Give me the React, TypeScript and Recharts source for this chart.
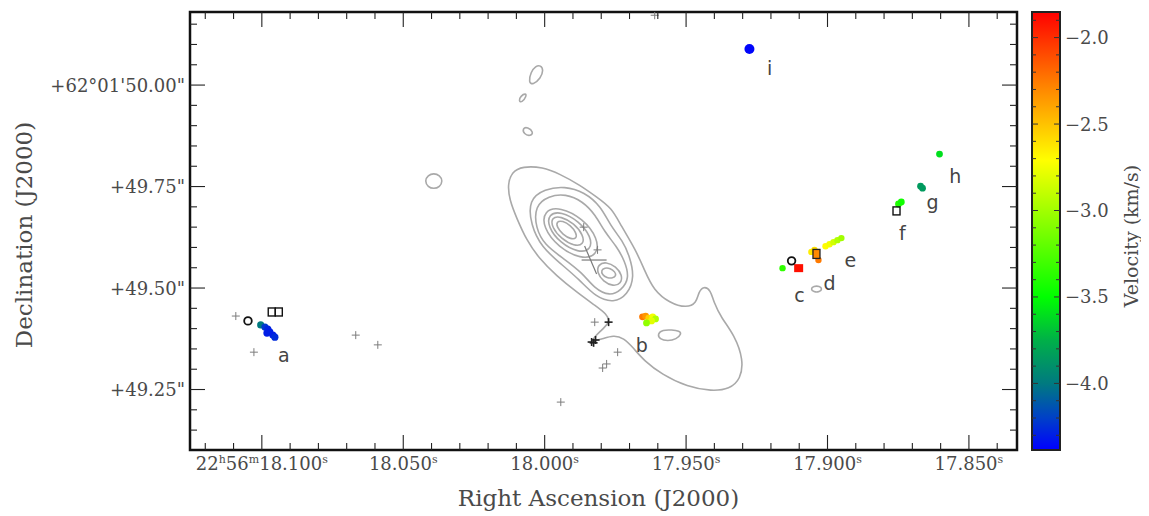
import React from "react";
import { ScatterChart, Scatter, XAxis, YAxis, ReferenceArea, Label } from "recharts";

type P = [number, number];

// contour levels: RA seconds (22h56m..), Dec arcsec (+62°01'..)
const contourOuter: P[] = [
  [18.0131, 49.754], [18.0124, 49.717], [18.0099, 49.672], [18.0064, 49.618], [18.0021, 49.574],
  [17.9958, 49.53], [17.9887, 49.49], [17.982, 49.456], [17.9781, 49.436], [17.9767, 49.416],
  [17.9806, 49.392], [17.9841, 49.367], [17.9799, 49.374], [17.9756, 49.384], [17.9721, 49.377],
  [17.9686, 49.352], [17.9647, 49.32], [17.9587, 49.288], [17.9495, 49.256], [17.941, 49.246],
  [17.9346, 49.251], [17.9307, 49.276], [17.9297, 49.323], [17.9329, 49.384], [17.9375, 49.426],
  [17.9403, 49.466], [17.9413, 49.495], [17.9438, 49.505], [17.9456, 49.49], [17.9463, 49.463],
  [17.9498, 49.451], [17.9558, 49.463], [17.9615, 49.495], [17.9647, 49.544], [17.9678, 49.594],
  [17.9731, 49.655], [17.9763, 49.697], [17.9816, 49.724], [17.9876, 49.754], [17.9947, 49.781],
  [18.0007, 49.798], [18.0078, 49.8], [18.0117, 49.786],
];
const ring1: P[] = [
  [18.0057, 49.717], [18.0, 49.744], [17.9929, 49.751], [17.9859, 49.736], [17.9802, 49.702],
  [17.9767, 49.653], [17.9724, 49.616], [17.97, 49.579], [17.9682, 49.527], [17.9707, 49.483],
  [17.9756, 49.463], [17.982, 49.478], [17.9876, 49.52], [17.9947, 49.562], [18.0011, 49.601],
  [18.0049, 49.655],
];
const ring2: P[] = [
  [18.0035, 49.702], [17.9986, 49.727], [17.9926, 49.732], [17.9866, 49.714], [17.982, 49.68],
  [17.9788, 49.638], [17.9746, 49.603], [17.9717, 49.567], [17.97, 49.525], [17.9728, 49.495],
  [17.977, 49.48], [17.9823, 49.498], [17.9866, 49.537], [17.9936, 49.574], [18.0, 49.606],
  [18.0032, 49.648],
];
const ring3: P[] = [
  [17.9813, 49.58], [17.9872, 49.571], [17.9951, 49.6], [18.0006, 49.649],
  [18.0003, 49.691], [17.9945, 49.7], [17.9865, 49.671], [17.9811, 49.622],
];
const ring4: P[] = [
  [17.9836, 49.594], [17.9881, 49.587], [17.9945, 49.611], [17.9988, 49.65],
  [17.9987, 49.682], [17.9942, 49.689], [17.9879, 49.665], [17.9835, 49.626],
];
const ring5: P[] = [
  [17.9862, 49.607], [17.9895, 49.603], [17.9941, 49.621], [17.9975, 49.65],
  [17.9976, 49.674], [17.9943, 49.677], [17.9896, 49.659], [17.9863, 49.63],
];
const ring6: P[] = [
  [17.9887, 49.622], [17.9907, 49.62], [17.9936, 49.632], [17.9957, 49.65],
  [17.9958, 49.664], [17.9937, 49.666], [17.9908, 49.654], [17.9888, 49.636],
];
const peak2Inner: P[] = [
  [17.9747, 49.53], [17.9759, 49.524], [17.978, 49.525], [17.9797, 49.533],
  [17.98, 49.544], [17.9788, 49.55], [17.9768, 49.549], [17.9751, 49.54],
];
const peak2Outer: P[] = [
  [17.973, 49.511], [17.9758, 49.504], [17.9793, 49.516], [17.9815, 49.538],
  [17.9811, 49.558], [17.9783, 49.565], [17.9748, 49.553], [17.9725, 49.531],
];
const blobNorth: P[] = [
  [18.0014, 50.049], [18.0004, 50.037], [18.0014, 50.017], [18.0042, 50.0],
  [18.0057, 50.007], [18.0049, 50.032], [18.0032, 50.047],
];
const blobSmallA: P[] = [[18.0067, 49.98], [18.0064, 49.973], [18.0081, 49.956], [18.0092, 49.961], [18.0085, 49.973]];
const blobSmallB: P[] = [[18.0078, 49.894], [18.006, 49.897], [18.0039, 49.884], [18.0049, 49.874], [18.0074, 49.879]];
const blobWest: P[] = [
  [18.036, 49.764], [18.0371, 49.749], [18.0392, 49.744], [18.0413, 49.749],
  [18.0424, 49.764], [18.0413, 49.778], [18.0392, 49.783], [18.0371, 49.778],
];
const blobEast: P[] = [
  [17.9516, 49.387], [17.9534, 49.374], [17.9565, 49.369], [17.9594, 49.374],
  [17.9601, 49.387], [17.9583, 49.397], [17.9551, 49.397], [17.9523, 49.394],
];
const blobD: P[] = [[17.9018, 49.498], [17.9028, 49.49], [17.9049, 49.49], [17.906, 49.498], [17.9049, 49.505], [17.9028, 49.505]];

const contours = [
  contourOuter, ring1, ring2, ring3, ring4, ring5, ring6, peak2Inner, peak2Outer,
  blobNorth, blobSmallA, blobSmallB, blobWest, blobEast, blobD,
];

// maser spots: ra, dec, velocity (km/s)
const spotsA = [
  { ra: 18.1004, dec: 49.409, v: -4.0 },
  { ra: 18.0989, dec: 49.404, v: -4.22 },
  { ra: 18.0979, dec: 49.399, v: -4.28 },
  { ra: 18.0972, dec: 49.392, v: -4.3 },
  { ra: 18.0982, dec: 49.389, v: -4.3 },
  { ra: 18.0961, dec: 49.384, v: -4.3 },
  { ra: 18.0954, dec: 49.379, v: -4.26 },
];
const spotsB = [
  { ra: 17.9654, dec: 49.429, v: -2.25 },
  { ra: 17.9643, dec: 49.431, v: -2.35 },
  { ra: 17.9632, dec: 49.426, v: -2.55 },
  { ra: 17.9618, dec: 49.429, v: -2.75 },
  { ra: 17.9608, dec: 49.424, v: -2.95 },
  { ra: 17.9622, dec: 49.419, v: -2.8 },
  { ra: 17.964, dec: 49.414, v: -3.05 },
];
const spotsCDE = [
  { ra: 17.9159, dec: 49.549, v: -3.35 },
  { ra: 17.9057, dec: 49.589, v: -2.65 },
  { ra: 17.9046, dec: 49.594, v: -2.6 },
  { ra: 17.9032, dec: 49.569, v: -2.25 },
  { ra: 17.9007, dec: 49.603, v: -2.7 },
  { ra: 17.8993, dec: 49.608, v: -2.75 },
  { ra: 17.8979, dec: 49.613, v: -2.85 },
  { ra: 17.8965, dec: 49.618, v: -2.95 },
  { ra: 17.8951, dec: 49.623, v: -3.0 },
];
const spotRedC = [{ ra: 17.9102, dec: 49.549, v: -1.9 }];
const spotsFGH = [
  { ra: 17.8749, dec: 49.707, v: -3.4 },
  { ra: 17.8739, dec: 49.712, v: -3.45 },
  { ra: 17.8671, dec: 49.751, v: -3.85 },
  { ra: 17.8664, dec: 49.746, v: -3.85 },
  { ra: 17.8604, dec: 49.83, v: -3.6 },
];
const spotI = [{ ra: 17.9276, dec: 50.089, v: -4.37 }];

const openSquares = [
  { ra: 18.0965, dec: 49.441 },
  { ra: 18.094, dec: 49.441 },
  { ra: 17.8756, dec: 49.69 },
];
const filledSquares = [{ ra: 17.9039, dec: 49.584, v: -2.3 }];
const openCircles = [
  { ra: 18.1049, dec: 49.419 },
  { ra: 17.9127, dec: 49.567 },
];
const crossesGray = [
  { ra: 18.1092, dec: 49.431 }, { ra: 18.1028, dec: 49.342 }, { ra: 18.0668, dec: 49.384 },
  { ra: 18.059, dec: 49.36 }, { ra: 17.9823, dec: 49.416 }, { ra: 17.9742, dec: 49.342 },
  { ra: 17.9795, dec: 49.303 }, { ra: 17.9781, dec: 49.313 }, { ra: 17.9943, dec: 49.219 },
  { ra: 17.9862, dec: 49.65 }, { ra: 17.9813, dec: 49.594 }, { ra: 17.9611, dec: 50.172 },
];
const crossesDark = [
  { ra: 17.9774, dec: 49.416 }, { ra: 17.9834, dec: 49.367 },
  { ra: 17.982, dec: 49.372 }, { ra: 17.9827, dec: 49.365 },
];
const bigCross = [{ ra: 17.9827, dec: 49.569 }];

const siteLabels = [
  { name: "a", ra: 18.0922, dec: 49.318 },
  { name: "b", ra: 17.9657, dec: 49.342 },
  { name: "c", ra: 17.9099, dec: 49.466 },
  { name: "d", ra: 17.8993, dec: 49.495 },
  { name: "e", ra: 17.8919, dec: 49.552 },
  { name: "f", ra: 17.8735, dec: 49.618 },
  { name: "g", ra: 17.8629, dec: 49.695 },
  { name: "h", ra: 17.8548, dec: 49.759 },
  { name: "i", ra: 17.9205, dec: 50.025 },
];

const raTicks = [
  17.84, 17.85, 17.86, 17.87, 17.88, 17.89, 17.9, 17.91, 17.92, 17.93, 17.94, 17.95, 17.96, 17.97, 17.98,
  17.99, 18.0, 18.01, 18.02, 18.03, 18.04, 18.05, 18.06, 18.07, 18.08, 18.09, 18.1, 18.11, 18.12,
];
const decTicks = [
  49.15, 49.2, 49.25, 49.3, 49.35, 49.4, 49.45, 49.5, 49.55, 49.6, 49.65, 49.7, 49.75,
  49.8, 49.85, 49.9, 49.95, 50.0, 50.05, 50.1, 50.15,
];
const velTicks = [
  -4.3, -4.2, -4.1, -4.0, -3.9, -3.8, -3.7, -3.6, -3.5, -3.4, -3.3, -3.2, -3.1, -3.0,
  -2.9, -2.8, -2.7, -2.6, -2.5, -2.4, -2.3, -2.2, -2.1, -2.0, -1.9,
];

const RA_DOMAIN: [number, number] = [17.833, 18.1254];
const DEC_DOMAIN: [number, number] = [49.101, 50.18];
const VEL_DOMAIN: [number, number] = [-4.385, -1.852];

const velStops: [number, string][] = [
  [-4.385, "#0000ff"],
  [-4.2, "#0040c8"],
  [-4.0, "#007a80"],
  [-3.75, "#00b048"],
  [-3.5, "#00ff00"],
  [-2.71, "#ffff00"],
  [-2.27, "#ff8000"],
  [-1.852, "#ff0000"],
];

// layout of the main panel
const CHART_W = 1012;
const CHART_H = 508;
const MARGIN = { top: 4, right: 3, bottom: 26, left: 0 };
const X_AXIS_H = 40;
const Y_AXIS_W = 182;
const PLOT_W = CHART_W - MARGIN.left - MARGIN.right - Y_AXIS_W;
const PLOT_H = CHART_H - MARGIN.top - MARGIN.bottom - X_AXIS_H;

const SERIF = "'DejaVu Serif', serif";
const TXT = "#4a4a4a";
const TICK = "#222";

const hex = (h: string) => [1, 3, 5].map((i) => parseInt(h.slice(i, i + 2), 16));
function velColor(v: number) {
  if (v <= velStops[0][0]) return velStops[0][1];
  for (let i = 0; i < velStops.length - 1; i++) {
    const [v0, c0] = velStops[i];
    const [v1, c1] = velStops[i + 1];
    if (v <= v1) {
      const t = (v - v0) / (v1 - v0);
      const a = hex(c0);
      const b = hex(c1);
      const c = a.map((x, k) => Math.round(x + (b[k] - x) * t));
      return `rgb(${c[0]},${c[1]},${c[2]})`;
    }
  }
  return velStops[velStops.length - 1][1];
}

const isMajor = (v: number, step: number) => Math.abs(v / step - Math.round(v / step)) < 1e-6;

const blank = () => <g />;
const spotShape = (r: number) => (p: any) => <circle cx={p.cx} cy={p.cy} r={r} fill={velColor(p.payload.v)} />;
const crossShape = (color: string, w: number, h: number) => (p: any) => (
  <g stroke={color} strokeWidth={w}>
    <line x1={p.cx - h} x2={p.cx + h} y1={p.cy} y2={p.cy} />
    <line x1={p.cx} x2={p.cx} y1={p.cy - h} y2={p.cy + h} />
  </g>
);
const bigCrossShape = (p: any) => (
  <g stroke="#7a7a7a" strokeWidth={1.2}>
    <line x1={p.cx - 12} x2={p.cx + 13} y1={p.cy} y2={p.cy} />
    <line x1={p.cx - 9} x2={p.cx + 3} y1={p.cy - 14} y2={p.cy + 14} />
  </g>
);
const squareShape = (p: any) => (
  <rect x={p.cx - 3.5} y={p.cy - 4} width={7} height={8} fill="none" stroke="#111" strokeWidth={1.4} />
);
const filledSquareShape = (p: any) => (
  <rect x={p.cx - 3.5} y={p.cy - 4.5} width={7} height={9} fill={velColor(p.payload.v)} stroke="#222" strokeWidth={1.3} />
);
const redSquareShape = (p: any) => (
  <rect x={p.cx - 4.5} y={p.cy - 4} width={9} height={8} fill={velColor(p.payload.v)} />
);
const circleShape = (p: any) => <circle cx={p.cx} cy={p.cy} r={3.8} fill="none" stroke="#111" strokeWidth={1.8} />;
const labelShape = (p: any) => (
  <text x={p.cx} y={p.cy} textAnchor="middle" fontFamily="'DejaVu Sans', sans-serif" fontSize={19} fill="#444">
    {p.payload.name}
  </text>
);

// bottom axis tick: inward mark at the bottom and mirrored one at the top edge, label below
function BottomTick(p: any) {
  const { x, y, payload } = p;
  const v: number = payload.value;
  const major = isMajor(v, 0.05);
  const len = major ? 15 : 7;
  const top = y - PLOT_H;
  const first = Math.abs(v - 18.1) < 1e-6;
  return (
    <g>
      <line x1={x} x2={x} y1={y} y2={y - len} stroke={TICK} strokeWidth={1.1} />
      <line x1={x} x2={x} y1={top} y2={top + len} stroke={TICK} strokeWidth={1.1} />
      {major && (
        <text x={x} y={y + 20} textAnchor="middle" fontFamily={SERIF} fontSize={18} fill={TXT}>
          {first && (
            <>
              <tspan>22</tspan>
              <tspan dy={-7} fontSize={11}>h</tspan>
              <tspan dy={7}>56</tspan>
              <tspan dy={-7} fontSize={11}>m</tspan>
              <tspan dy={7}>{v.toFixed(3)}</tspan>
            </>
          )}
          {!first && <tspan>{v.toFixed(3)}</tspan>}
          <tspan dy={-7} fontSize={11}>s</tspan>
        </text>
      )}
    </g>
  );
}
// left axis tick: inward mark on the left and mirrored one on the right edge, label to the left
function LeftTick(p: any) {
  const { x, y, payload } = p;
  const v: number = payload.value;
  const major = isMajor(v, 0.25);
  const len = major ? 15 : 7;
  const right = x + PLOT_W;
  const text = Math.abs(v - 50) < 1e-6 ? "+62°01'50.00\"" : `+${v.toFixed(2)}"`;
  return (
    <g>
      <line x1={x} x2={x + len} y1={y} y2={y} stroke={TICK} strokeWidth={1.1} />
      <line x1={right} x2={right - len} y1={y} y2={y} stroke={TICK} strokeWidth={1.1} />
      {major && (
        <text x={x - 5} y={y + 6.5} textAnchor="end" fontFamily={SERIF} fontSize={18} fill={TXT}>
          {text}
        </text>
      )}
    </g>
  );
}
function VelTick(p: any) {
  const { x, y, payload } = p;
  const v: number = payload.value;
  const major = isMajor(v, 0.5);
  const len = major ? 6 : 4;
  return (
    <g>
      <line x1={x} x2={x - len} y1={y} y2={y} stroke="#333" strokeWidth={1} />
      <line x1={x - 28} x2={x - 28 + len} y1={y} y2={y} stroke="#333" strokeWidth={1} />
      {major && (
        <text x={x + 5} y={y + 6.5} textAnchor="start" fontFamily={SERIF} fontSize={18} fill={TXT}>
          {`\u2212${Math.abs(v).toFixed(1)}`}
        </text>
      )}
    </g>
  );
}

const XTitle = (p: any) => {
  const vb = p.viewBox || { x: 182, y: 442, width: 827, height: 40 };
  return (
    <text x={vb.x + vb.width / 2 - 5} y={vb.y + 56} textAnchor="middle" fontFamily={SERIF} fontSize={23} fill={TXT}>
      Right Ascension (J2000)
    </text>
  );
};
const YTitle = (p: any) => {
  const vb = p.viewBox || { x: 0, y: 4, width: 182, height: 438 };
  const cx = vb.x + 15.5;
  const cy = vb.y + vb.height / 2 + 4;
  return (
    <text
      x={cx}
      y={cy}
      transform={`rotate(-90, ${cx}, ${cy})`}
      textAnchor="middle"
      dominantBaseline="central"
      fontFamily={SERIF}
      fontSize={23}
      fill={TXT}
    >
      Declination (J2000)
    </text>
  );
};
const VelTitle = (p: any) => {
  const vb = p.viewBox || { x: 40, y: 4, width: 89, height: 438 };
  const cx = vb.x + 71;
  const cy = vb.y + 224;
  return (
    <text
      x={cx}
      y={cy}
      transform={`rotate(-90, ${cx}, ${cy})`}
      textAnchor="middle"
      dominantBaseline="central"
      fontFamily={SERIF}
      fontSize={19}
      fill={TXT}
    >
      Velocity (km/s)
    </text>
  );
};

export default function App() {
  return (
    <div style={{ position: "relative", width: 1141, height: CHART_H }}>
      <div style={{ position: "absolute", left: 0, top: 0 }}>
        <ScatterChart width={CHART_W} height={CHART_H} margin={MARGIN}>
          <XAxis
            type="number"
            dataKey="ra"
            domain={RA_DOMAIN}
            allowDataOverflow
            reversed
            ticks={raTicks}
            interval={0}
            height={X_AXIS_H}
            tickSize={0}
            tickMargin={0}
            tickLine={false}
            axisLine={false}
            tick={(p: any) => <BottomTick {...p} />}
          >
            <Label content={XTitle} />
          </XAxis>
          <YAxis
            type="number"
            dataKey="dec"
            domain={DEC_DOMAIN}
            allowDataOverflow
            ticks={decTicks}
            interval={0}
            width={Y_AXIS_W}
            tickSize={0}
            tickMargin={0}
            tickLine={false}
            axisLine={false}
            tick={(p: any) => <LeftTick {...p} />}
          >
            <Label content={YTitle} />
          </YAxis>

          {contours.map((c, i) => (
            <Scatter
              key={`c${i}`}
              data={c.map(([ra, dec]) => ({ ra, dec }))}
              line={{ stroke: "#a9a9a9", strokeWidth: 1.6, fill: "none" }}
              lineType="joint"
              lineJointType="basisClosed"
              shape={blank}
              isAnimationActive={false}
            />
          ))}

          <Scatter data={crossesGray} shape={crossShape("#7d7d7d", 1, 4)} isAnimationActive={false} />
          <Scatter data={crossesDark} shape={crossShape("#222", 1.6, 4)} isAnimationActive={false} />
          <Scatter data={bigCross} shape={bigCrossShape} isAnimationActive={false} />

          <Scatter data={spotsA} shape={spotShape(3.6)} isAnimationActive={false} />
          <Scatter data={spotsB} shape={spotShape(3.4)} isAnimationActive={false} />
          <Scatter data={spotsCDE} shape={spotShape(3.2)} isAnimationActive={false} />
          <Scatter data={spotsFGH} shape={spotShape(3.4)} isAnimationActive={false} />
          <Scatter data={spotI} shape={spotShape(5)} isAnimationActive={false} />
          <Scatter data={spotRedC} shape={redSquareShape} isAnimationActive={false} />

          <Scatter data={openSquares} shape={squareShape} isAnimationActive={false} />
          <Scatter data={filledSquares} shape={filledSquareShape} isAnimationActive={false} />
          <Scatter data={openCircles} shape={circleShape} isAnimationActive={false} />
          <Scatter data={siteLabels} shape={labelShape} isAnimationActive={false} />

          <ReferenceArea
            x1={RA_DOMAIN[0]}
            x2={RA_DOMAIN[1]}
            y1={DEC_DOMAIN[0]}
            y2={DEC_DOMAIN[1]}
            fill="none"
            stroke="#111"
            strokeWidth={2.5}
          />
        </ScatterChart>
      </div>

      <div style={{ position: "absolute", left: CHART_W, top: 0 }}>
        <ScatterChart width={129} height={CHART_H} margin={{ top: 4, right: 0, bottom: 66, left: 12 }}>
          <defs>
            <linearGradient id="velGrad" x1="0" y1="0" x2="0" y2="1">
              {velStops
                .slice()
                .reverse()
                .map(([v, c]) => (
                  <stop
                    key={v}
                    offset={(VEL_DOMAIN[1] - v) / (VEL_DOMAIN[1] - VEL_DOMAIN[0])}
                    stopColor={c}
                  />
                ))}
            </linearGradient>
          </defs>
          <XAxis type="number" dataKey="x" domain={[0, 1]} allowDataOverflow hide height={0} />
          <YAxis
            type="number"
            dataKey="v"
            orientation="right"
            domain={VEL_DOMAIN}
            allowDataOverflow
            ticks={velTicks}
            interval={0}
            width={89}
            tickSize={0}
            tickMargin={0}
            tickLine={false}
            axisLine={false}
            tick={(p: any) => <VelTick {...p} />}
          >
            <Label content={VelTitle} />
          </YAxis>
          <ReferenceArea
            x1={0}
            x2={1}
            y1={VEL_DOMAIN[0]}
            y2={VEL_DOMAIN[1]}
            fill="url(#velGrad)"
            fillOpacity={1}
            stroke="#222"
            strokeWidth={2}
          />
        </ScatterChart>
      </div>
    </div>
  );
}
